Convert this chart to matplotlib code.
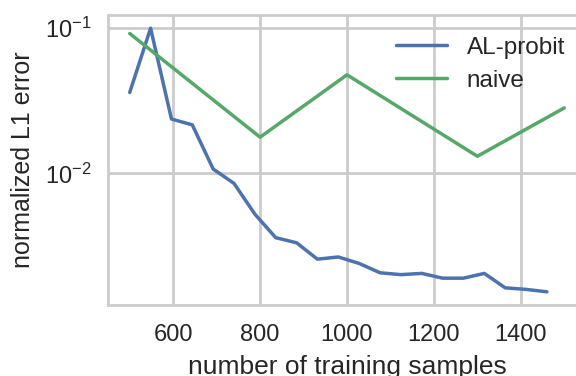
import numpy as np
import matplotlib
matplotlib.use("Agg")
import matplotlib.pyplot as plt
import seaborn as sns

# data
al_x = [500, 548, 596, 644, 692, 740, 788, 836, 884, 932, 980,
        1028, 1076, 1124, 1172, 1220, 1268, 1316, 1364, 1412, 1460]
al_err = [0.0359, 0.0990, 0.0236, 0.0215, 0.01071, 0.00853, 0.00525,
          0.00362, 0.00334, 0.00258, 0.00267, 0.00241, 0.00208, 0.00202,
          0.00206, 0.00191, 0.00191, 0.00206, 0.00164, 0.00160, 0.00154]
naive_x = [500, 800, 1000, 1300, 1500]
naive_err = [0.0910, 0.0177, 0.0474, 0.0131, 0.0281]

sns.set_style("whitegrid")
plt.rcParams['font.family'] = ['Liberation Sans', 'DejaVu Sans']
plt.rcParams['axes.edgecolor'] = '.8'
plt.rcParams['grid.color'] = '.8'

fig = plt.figure(figsize=(5.76, 3.76), dpi=100)
ax = fig.add_axes([108 / 576, 71 / 376, 478 / 576, 290 / 376])

ax.plot(al_x, al_err, color='#4C72B0', lw=2.5, label='AL-probit')
ax.plot(naive_x, naive_err, color='#55A868', lw=2.5, label='naive')
ax.set_yscale('log')
ax.set_xticks([600, 800, 1000, 1200, 1400])

for s in ax.spines.values():
    s.set_linewidth(2)
ax.grid(True, which='major', lw=2, color='.8')
ax.tick_params(axis='both', which='both', length=0, labelsize=17, colors='.15')
ax.tick_params(axis='x', pad=14)
ax.tick_params(axis='y', pad=12)

ax.set_xlabel('number of training samples', fontsize=19, color='.15', labelpad=6)
ax.set_ylabel('normalized L1 error', fontsize=18, color='.15', labelpad=7)

ax.legend(loc='upper right', bbox_to_anchor=(1.002, 1.0), frameon=False, fontsize=17.5,
          handlelength=2.1, handletextpad=0.8, labelspacing=0.45)

fig.savefig('out.png', dpi=100)
